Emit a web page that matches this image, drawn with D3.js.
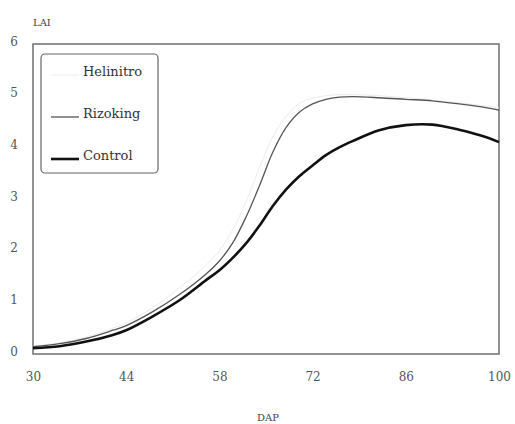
<!DOCTYPE html>
<html>
<head>
<meta charset="utf-8">
<script src="https://cdn.jsdelivr.net/npm/d3@7"></script>
<style>
  body { margin: 0; background: #fff; }
  svg { display: block; }
</style>
</head>
<body>
<svg id="chart" width="515" height="424"></svg>
<script>
// days after planting
const dap = [30, 34, 38, 42, 44, 48, 52, 56, 58, 60, 62, 64, 66, 68, 70, 72, 74, 76, 78, 82, 86, 90, 94, 98, 100]
const helinitro = [0.15, 0.22, 0.33, 0.5, 0.6, 0.9, 1.28, 1.72, 2.0, 2.4, 2.95, 3.6, 4.2, 4.6, 4.85, 4.95, 5.0, 5.02, 5.02, 5.0, 4.96, 4.92, 4.86, 4.8, 4.76]
const rizoking = [0.14, 0.2, 0.3, 0.46, 0.55, 0.82, 1.15, 1.55, 1.8, 2.15, 2.65, 3.25, 3.9, 4.38, 4.68, 4.84, 4.93, 4.97, 4.98, 4.96, 4.93, 4.9, 4.84, 4.77, 4.72]
const control = [0.11, 0.15, 0.24, 0.37, 0.46, 0.73, 1.04, 1.43, 1.62, 1.86, 2.14, 2.48, 2.86, 3.18, 3.44, 3.65, 3.85, 4.0, 4.12, 4.33, 4.43, 4.44, 4.34, 4.2, 4.1]
const xTicks = [30, 44, 58, 72, 86, 100]
const yTicks = [0, 1, 2, 3, 4, 5, 6]

const series = [
  { name: "Helinitro", values: helinitro, color: "#ececec", width: 1 },
  { name: "Rizoking", values: rizoking, color: "#555", width: 1.3 },
  { name: "Control", values: control, color: "#111", width: 2.6 }
]

const serif = "DejaVu Serif, serif"
const margin = ({ top: 44, right: 16, left: 33, bottom: 70 })
const width = 515
const height = 424

const svg = d3.select("#chart")

const x = d3.scaleLinear()
    .domain([30, 100])
    .range([margin.left, width - margin.right])
const y = d3.scaleLinear()
    .domain([0, 6])
    .range([height - margin.bottom, margin.top])

// frame
svg.append("rect")
    .attr("x", x(30))
    .attr("y", y(6))
    .attr("width", x(100) - x(30))
    .attr("height", y(0) - y(6))
    .attr("fill", "none")
    .attr("stroke", "#777")
    .attr("stroke-width", 1.6)

const xAxis = g => g
    .attr("transform", `translate(0,${y(0)})`)
    .call(d3.axisBottom(x).tickValues(xTicks).tickSize(0).tickPadding(18).tickFormat(d3.format("d")))
    .call(g => g.select(".domain").remove())
    .call(g => g.selectAll("text")
        .attr("font-family", serif)
        .attr("font-size", 12)
        .attr("fill", "#555"))

const yAxis = g => g
    .attr("transform", `translate(${margin.left},0)`)
    .call(d3.axisLeft(y).tickValues(yTicks).tickSize(0).tickPadding(14).tickFormat(d3.format("d")))
    .call(g => g.select(".domain").remove())
    .call(g => g.selectAll("text")
        .attr("text-anchor", "middle")
        .attr("x", -19)
        .attr("dy", "0.1em")
        .attr("font-family", serif)
        .attr("font-size", 12)
        .attr("fill", "#555"))

svg.append("g").call(xAxis)
svg.append("g").call(yAxis)

svg.append("text")
    .attr("x", margin.left)
    .attr("y", 26)
    .attr("font-family", serif)
    .attr("font-size", 10)
    .attr("fill", "#444")
    .text("LAI")

svg.append("text")
    .attr("x", 268)
    .attr("y", 421)
    .attr("text-anchor", "middle")
    .attr("font-family", serif)
    .attr("font-size", 10)
    .attr("fill", "#444")
    .text("DAP")

const line = d3.line()
    .x((d, i) => x(dap[i]))
    .y(d => y(d))
    .curve(d3.curveCatmullRom.alpha(0.5))

svg.append("g")
  .selectAll("path")
  .data(series)
  .join("path")
    .attr("d", d => line(d.values))
    .attr("fill", "none")
    .attr("stroke", d => d.color)
    .attr("stroke-width", d => d.width)

// legend
const legend = svg.append("g")
legend.append("rect")
    .attr("x", 41)
    .attr("y", 54)
    .attr("width", 117)
    .attr("height", 119)
    .attr("rx", 4)
    .attr("fill", "#fff")
    .attr("stroke", "#666")
    .attr("stroke-width", 1.2)

const item = legend.selectAll("g.item")
  .data(series)
  .join("g")
    .attr("class", "item")
    .attr("transform", (d, i) => `translate(0,${72 + i * 42})`)
item.append("line")
    .attr("x1", 51)
    .attr("x2", 79)
    .attr("y1", 3)
    .attr("y2", 3)
    .attr("stroke", d => d.color)
    .attr("stroke-width", d => d.width)
item.append("text")
    .attr("x", 83)
    .attr("y", 4)
    .attr("font-family", serif)
    .attr("font-size", 13)
    .attr("fill", "#333")
    .text(d => d.name)
</script>
</body>
</html>
